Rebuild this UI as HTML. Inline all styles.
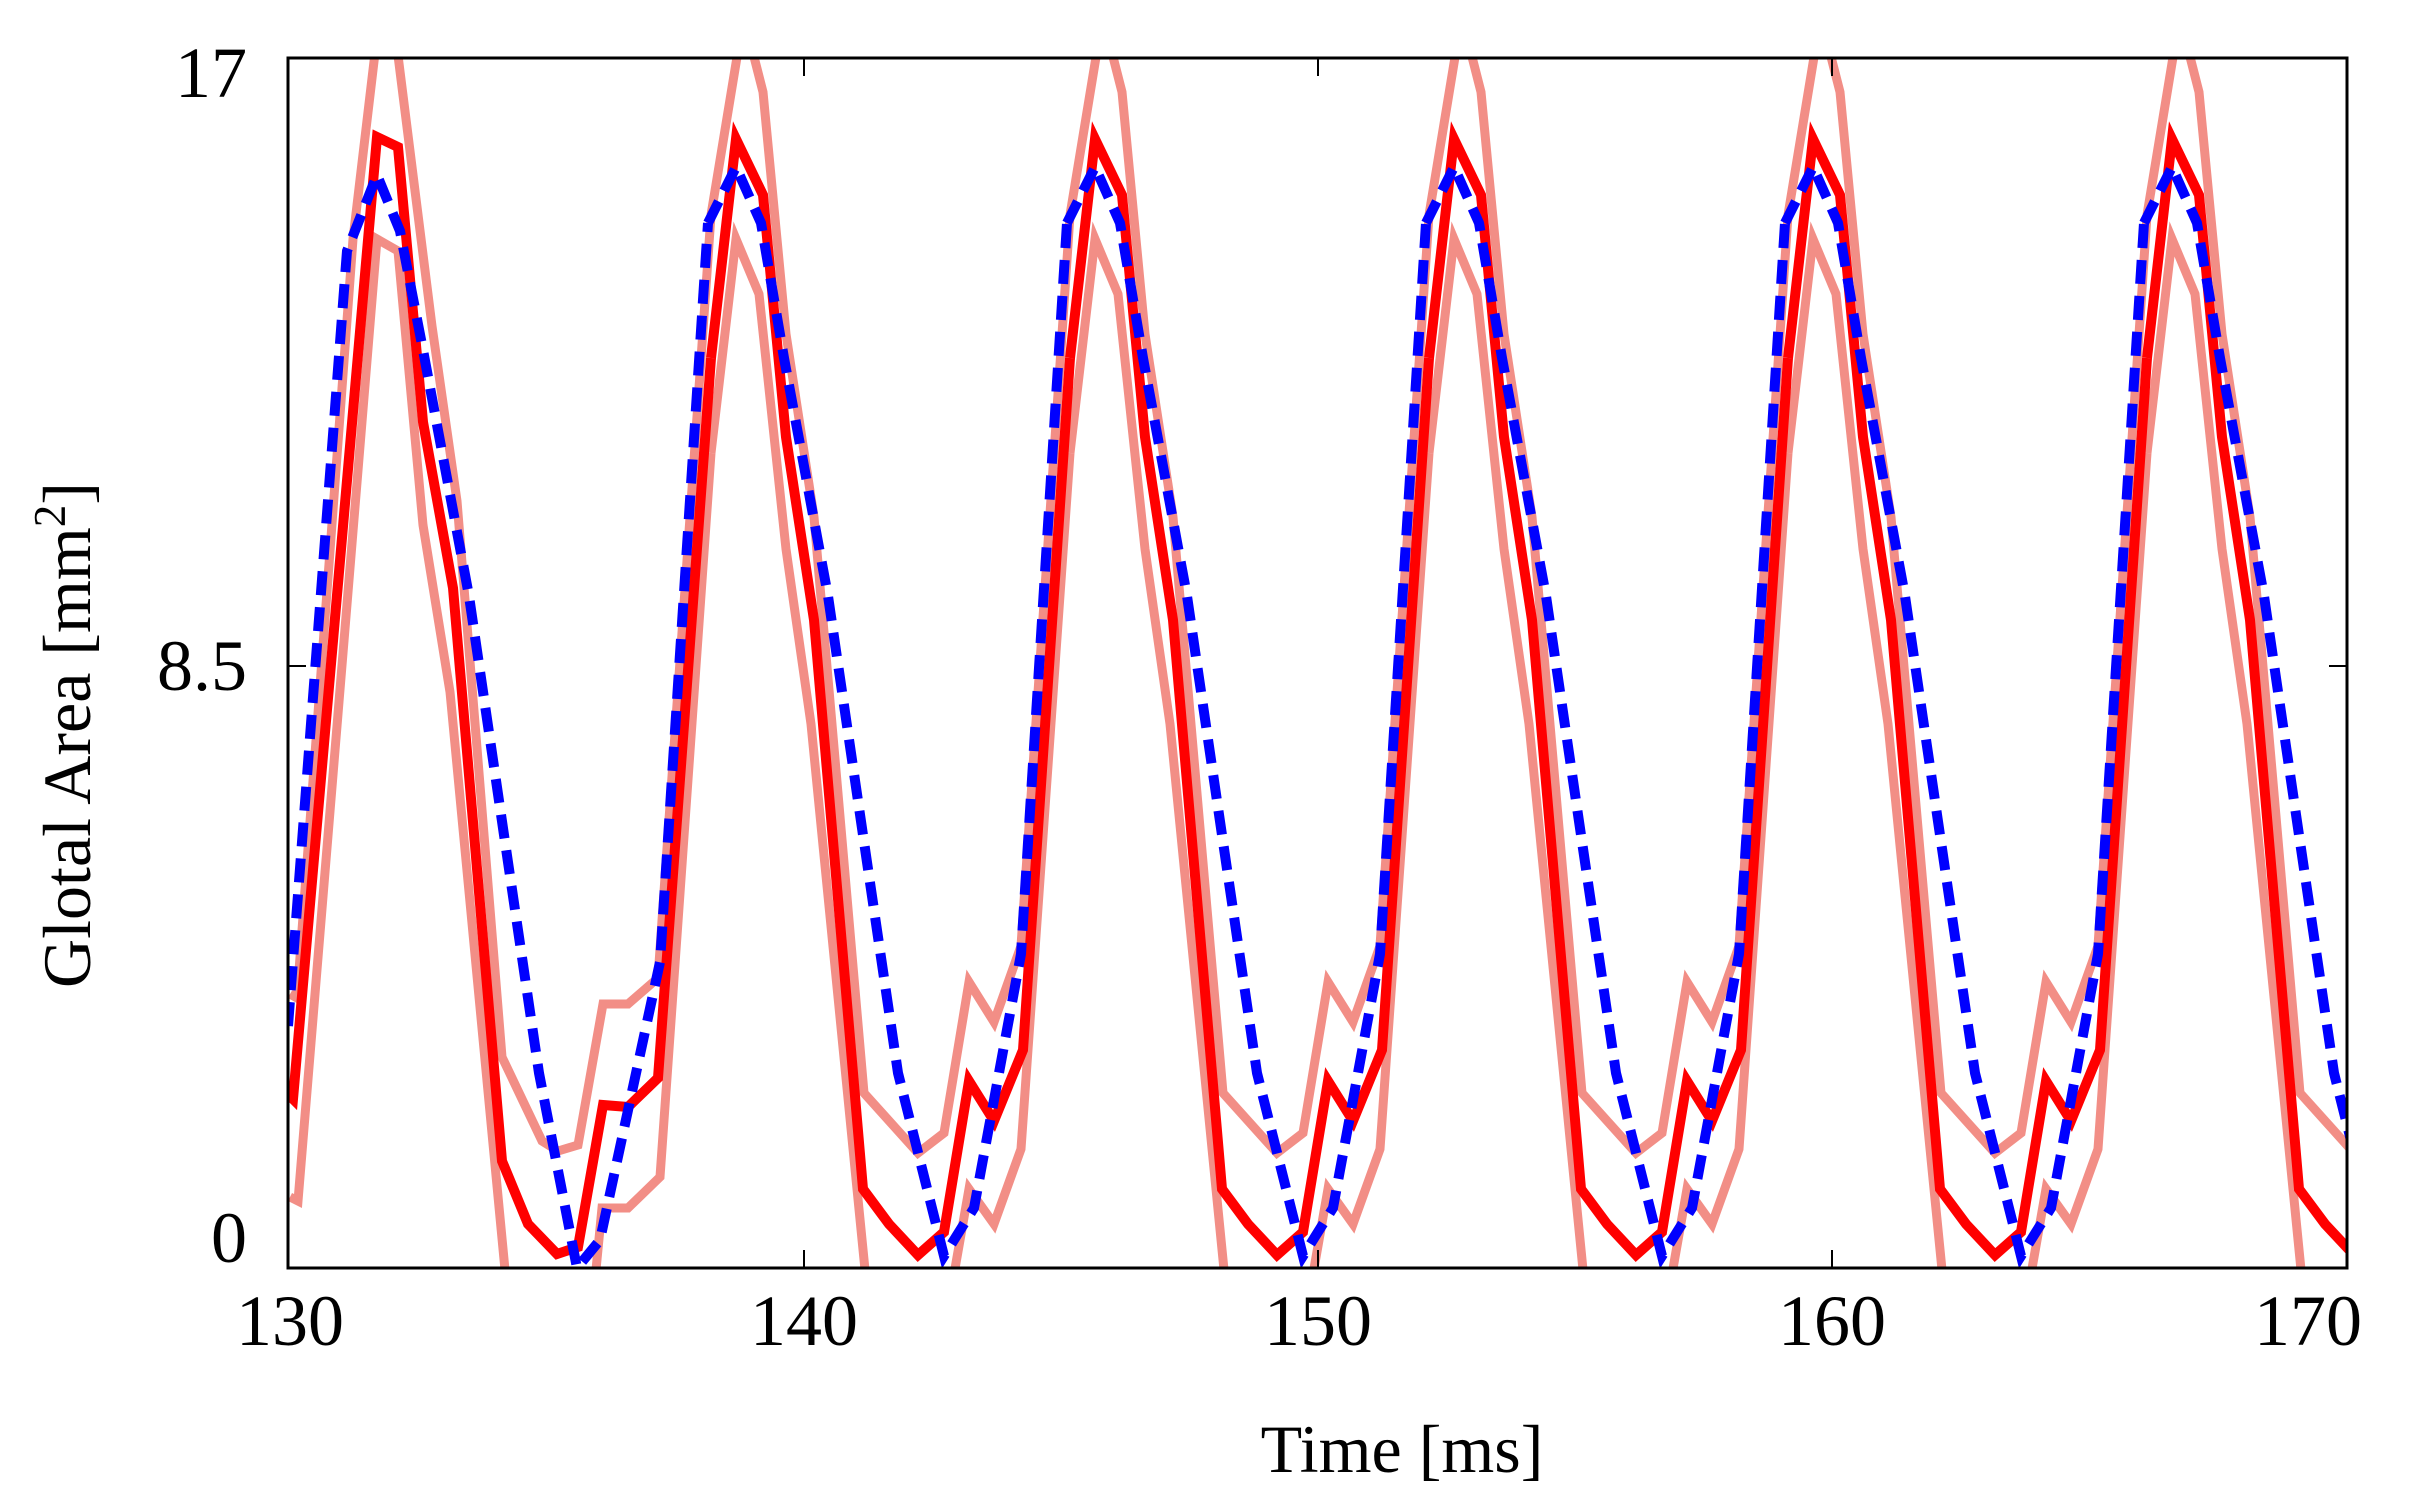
<!DOCTYPE html>
<html><head><meta charset="utf-8"><style>
html,body{margin:0;padding:0;background:#fff;}
svg{display:block;}
text{font-family:"Liberation Serif",serif;fill:#000;}
</style></head><body>
<svg width="2428" height="1501" viewBox="0 0 2428 1501" xmlns="http://www.w3.org/2000/svg">
<defs>
<clipPath id="c"><rect x="288" y="58" width="2059" height="1210"/></clipPath>
<polyline id="tr" fill="none" points="-25,358 0,139 27,195 50,437 78,620 127,1189 153,1224 182,1255 208,1232 233,1081 258,1121 287,1050 334,358"/>
<polyline id="ta" fill="none" points="-25,215 3,45 15,45 27,92 50,334 78,517 128,1093 182,1153 208,1133 233,982 258,1022 285,946 334,215"/>
<polyline id="tb" fill="none" points="-25,453 0,239 23,294 50,549 75,724 150,1482 190,1480 217,1280 233,1189 258,1224 285,1149 334,453"/>
<polyline id="tl" fill="none" points="-28,223 0,167 25,223 48,358 92,596 127,835 162,1073 208,1256 238,1208 285,954 331,223"/>
</defs>
<rect width="2428" height="1501" fill="#fff"/>
<g clip-path="url(#c)" stroke-linejoin="miter" fill="none">
<g stroke="#f28e86" stroke-width="9">
<polyline points="290,994 297,998 353,239 386,-40 432,326 457,501 502,1057 542,1141 558,1151 578,1145 603,1004 628,1004 658,978 711,215"/>
<polyline points="290,1197 298,1201 377,239 398,251 423,525 450,692 525,1480 570,1480 595,1280 602,1208 628,1208 660,1177 711,453"/>
<use href="#ta" x="736"/><use href="#ta" x="1095"/><use href="#ta" x="1454"/><use href="#ta" x="1813"/><use href="#ta" x="2172"/>
<use href="#tb" x="736"/><use href="#tb" x="1095"/><use href="#tb" x="1454"/><use href="#tb" x="1813"/><use href="#tb" x="2172"/>
</g>
<g stroke="#ff0000" stroke-width="10">
<polyline points="290,1096 293,1099 377,137 398,147 423,422 453,588 502,1161 528,1224 557,1254 578,1247 603,1105 628,1107 658,1078 711,358"/>
<use href="#tr" x="736"/><use href="#tr" x="1095"/><use href="#tr" x="1454"/><use href="#tr" x="1813"/><use href="#tr" x="2172"/>
</g>
<g stroke="#0000ff" stroke-width="10" stroke-dasharray="24 12">
<polyline points="288,1026 347,251 377,175 400,231 423,350 469,596 504,835 539,1073 577,1268 600,1240 660,962 708,223"/>
<use href="#tl" x="736"/><use href="#tl" x="1095"/><use href="#tl" x="1454"/><use href="#tl" x="1813"/><use href="#tl" x="2172"/>
</g>
</g>
<rect x="288" y="58" width="2059" height="1210" fill="none" stroke="#000" stroke-width="3"/>
<g stroke="#000" stroke-width="2">
<line x1="804" y1="1268" x2="804" y2="1250"/><line x1="1318" y1="1268" x2="1318" y2="1250"/><line x1="1832" y1="1268" x2="1832" y2="1250"/>
<line x1="804" y1="58" x2="804" y2="76"/><line x1="1318" y1="58" x2="1318" y2="76"/><line x1="1832" y1="58" x2="1832" y2="76"/>
<line x1="288" y1="666" x2="306" y2="666"/><line x1="2347" y1="666" x2="2329" y2="666"/>
</g>
<g font-size="72">
<text x="247" y="97" text-anchor="end">17</text>
<text x="247" y="690" text-anchor="end">8.5</text>
<text x="247" y="1262" text-anchor="end">0</text>
<text x="290" y="1345" text-anchor="middle">130</text>
<text x="804" y="1345" text-anchor="middle">140</text>
<text x="1318" y="1345" text-anchor="middle">150</text>
<text x="1832" y="1345" text-anchor="middle">160</text>
<text x="2308" y="1345" text-anchor="middle">170</text>
</g>
<text x="1402" y="1472" font-size="68" text-anchor="middle">Time [ms]</text>
<text transform="translate(90,735) rotate(-90)" font-size="68" text-anchor="middle">Glotal Area [mm<tspan font-size="45" dy="-25">2</tspan><tspan dy="25">]</tspan></text>
</svg>
</body></html>
